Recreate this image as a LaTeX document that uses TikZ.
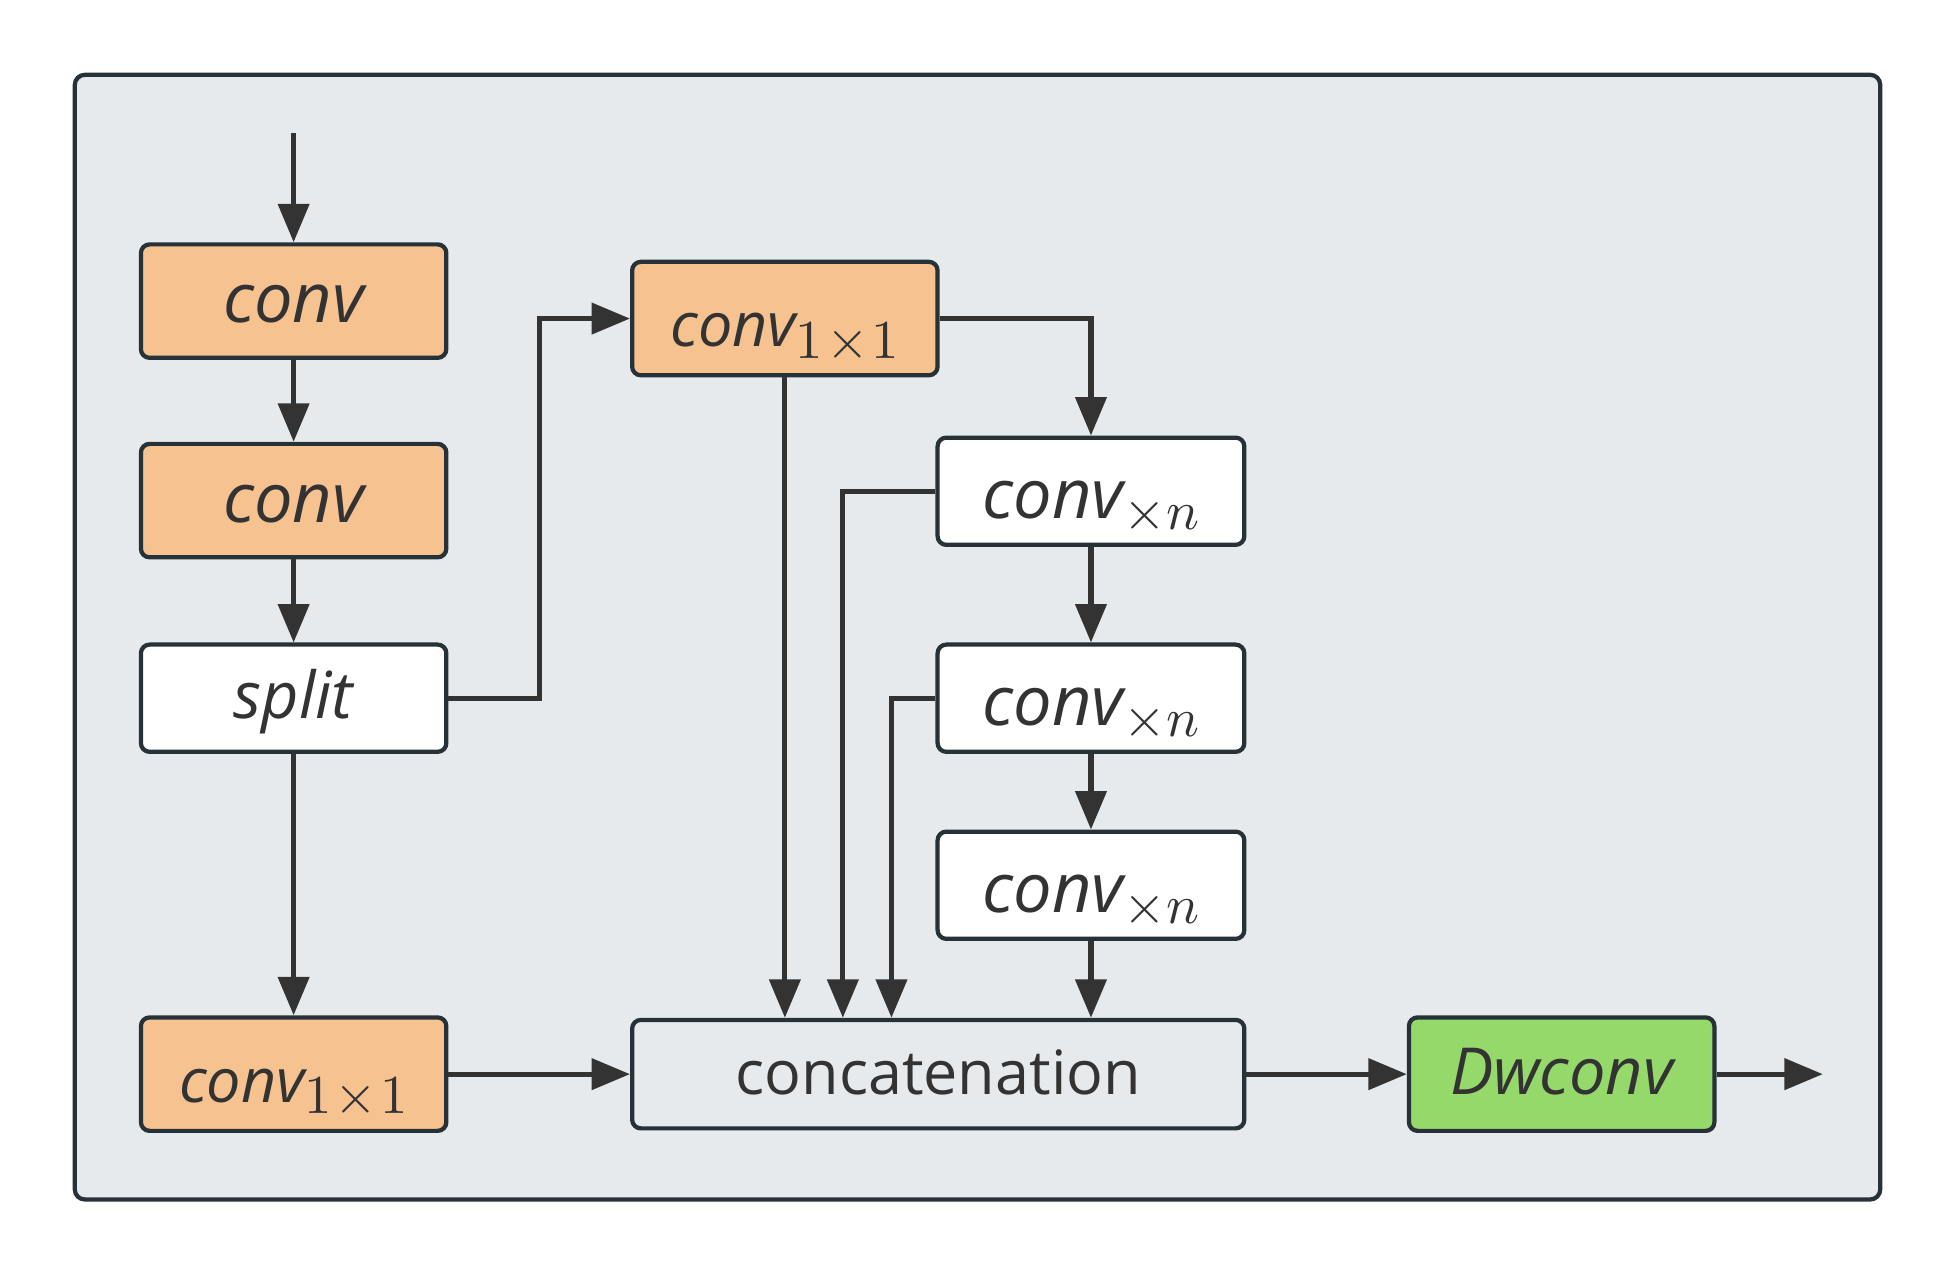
\documentclass[tikz,border=0pt]{standalone}
\usepackage[no-math]{fontspec}
\usepackage{graphicx}
\newfontfamily\osans{Open Sans}
\usetikzlibrary{arrows.meta,calc}
\definecolor{frame}{HTML}{263238}
\definecolor{bg}{HTML}{E6EAED}
\definecolor{orng}{HTML}{F5C290}
\definecolor{grn}{HTML}{95D96A}
\definecolor{ink}{HTML}{333333}
\newcommand\fsz[1]{\fontsize{#1}{#1}\selectfont}
\newcommand\subs[1]{\raisebox{-4.7pt}{\scalebox{2.2}{\fontsize{10}{12}\selectfont$#1$}}}
\tikzset{
  box/.style={draw=frame, line width=1.7pt, rounded corners=3.5pt, inner sep=0pt,
    minimum width=122.5pt, minimum height=45pt, text=ink, font=\osans,
    text depth=0pt, text height=16pt},
  obox/.style={box, fill=orng},
  wbox/.style={box, fill=white},
  arr/.style={draw=ink, line width=2.1pt, -{Triangle[length=15.4pt,width=12.3pt]}}
}
\begin{document}
\begin{tikzpicture}[x=0.5pt,y=-0.5pt]
\useasboundingbox (0,0) rectangle (1568,1022.6);
\draw[frame, fill=bg, line width=1.7pt, rounded corners=4pt] (60,60) rectangle (1508,962);

\node[obox, minimum height=45.5pt, text height=17.3pt] (c1) at (235.5,241.5) {\fsz{27.5}\itshape conv};
\node[obox, minimum height=45.5pt, text height=17.3pt] (c2) at (235.5,401.5) {\fsz{27.5}\itshape conv};
\node[wbox, minimum height=43pt] (sp) at (235.5,560) {\fsz{26}\itshape split};
\node[obox, minimum height=45.5pt, text height=22.4pt] (cb) at (235.5,861.5) {\fsz{24.5}\itshape conv\subs{1\mkern1mu{\times}\mkern1mu1}};
\node[obox, minimum height=45.5pt, text height=22.4pt] (ct) at (629.5,255.5) {\fsz{24.5}\itshape conv\subs{1\mkern1mu{\times}\mkern1mu1}};
\node[wbox, minimum height=43pt, minimum width=123pt, text height=21.5pt] (x1) at (875,394) {\fsz{27.5}\itshape conv\subs{\times n}};
\node[wbox, minimum height=43pt, minimum width=123pt, text height=21.5pt] (x2) at (875,560) {\fsz{27.5}\itshape conv\subs{\times n}};
\node[wbox, minimum height=43pt, minimum width=123pt, text height=21.5pt] (x3) at (875,710) {\fsz{27.5}\itshape conv\subs{\times n}};
\node[box, fill=bg, minimum height=43.5pt, minimum width=245.5pt] (cat) at (752.5,861.5) {\fsz{24.5}concatenation};
\node[box, fill=grn, minimum height=45.5pt] (dw) at (1252.5,861.5) {\fsz{26}\itshape Dwconv};

\coordinate (in) at (235.5,107);
\coordinate (out) at (1462,861.5);
\coordinate (j0) at (433,560);
\coordinate (j1) at (676,394);
\coordinate (j2) at (715,560);

\draw[arr] (in) -- (c1);
\draw[arr] (c1) -- (c2);
\draw[arr] (c2) -- (sp);
\draw[arr] (sp) -- (cb);
\draw[arr] (sp.east) -- (j0) |- (ct.west);
\draw[arr] (ct.east) -| (x1.north);
\draw[arr] (ct.south) -- (ct.south |- cat.north);
\draw[arr] (x1.west) -- (j1) -- (j1 |- cat.north);
\draw[arr] (x2.west) -- (j2) -- (j2 |- cat.north);
\draw[arr] (x1) -- (x2);
\draw[arr] (x2) -- (x3);
\draw[arr] (x3.south) -- (x3.south |- cat.north);
\draw[arr] (cb) -- (cat);
\draw[arr] (cat) -- (dw);
\draw[arr] (dw.east) -- (out);
\end{tikzpicture}
\end{document}
